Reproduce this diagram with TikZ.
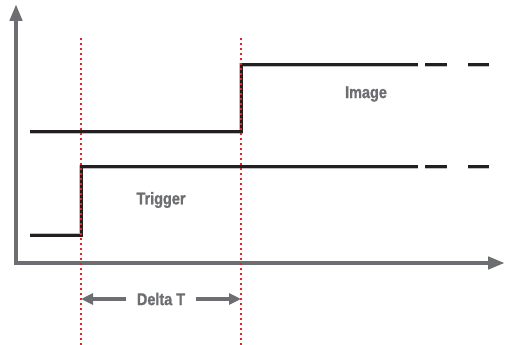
\documentclass[tikz,border=0pt]{standalone}
\usepackage{fontspec}
\newfontfamily\labelfont[FakeStretch=0.85, FakeBold=1.3]{Liberation Sans Bold}
\usetikzlibrary{arrows.meta}
\definecolor{axisgray}{HTML}{6D6E71}
\definecolor{sigblack}{HTML}{231F20}
\definecolor{markred}{HTML}{E0262B}
\tikzset{
  axis/.style={line width=4.5pt, axisgray, -{Triangle[width=12pt,length=17pt]}},
  signal/.style={line width=3pt, sigblack},
  shade/.style={line width=4.5pt, black!25},
  marker/.style={line width=1.6pt, markred, dash pattern=on 1.6pt off 3.4pt},
  span/.style={line width=4.5pt, axisgray, -{Triangle[width=11pt,length=12pt]}},
  lbl/.style={text=axisgray, font=\labelfont\fontsize{17}{17}\selectfont, inner sep=0pt}
}
\begin{document}
\begin{tikzpicture}[x=1pt,y=-1pt]
  \useasboundingbox (0,0) rectangle (515,345);
  %=========== axes ===========================
  \coordinate (o) at (16,263);
  \coordinate (ytop) at (16,4);
  \coordinate (xend) at (505,263);
  \draw[axis] (o) -- (ytop);
  \draw[axis] ([xshift=-2pt]o) -- (xend);
  %=========== markers ===========================
  \coordinate (m1top) at (81,38);
  \coordinate (m1bot) at (81,345);
  \coordinate (m2top) at (241,38);
  \coordinate (m2bot) at (241,345);
  %=========== image signal, from left to right ===========================
  \coordinate (img0) at (30,132);
  \coordinate (img1) at (241,132);
  \coordinate (img2) at (241,65);
  \coordinate (img3) at (418,65);
  %=========== trigger signal, from left to right ===========================
  \coordinate (trg0) at (30,235);
  \coordinate (trg1) at (81,235);
  \coordinate (trg2) at (81,167);
  \coordinate (trg3) at (418,167);
  \foreach \s/\d in {shade/1, signal/0} {
    \draw[\s, shift={(\d,\d)}] (img0) -- (img1) -- (img2) -- (img3);
    \draw[\s, shift={(\d,\d)}] (img3) ++(7,0) -- ++(22,0) ++(21,0) -- ++(21,0);
    \draw[\s, shift={(\d,\d)}] (trg0) -- (trg1) -- (trg2) -- (trg3);
    \draw[\s, shift={(\d,\d)}] (trg3) ++(7,0) -- ++(22,0) ++(21,0) -- ++(21,0);
  }
  \draw[marker] (m1top) -- (m1bot);
  \draw[marker] (m2top) -- (m2bot);
  %=========== labels ===========================
  \node[lbl] (image) at (366,94) {Image};
  \node[lbl] (trigger) at (161,200) {Trigger};
  \node[lbl] (delta) at (161,299) {Delta T};
  \draw[span] ([xshift=-11pt]delta.west) -- (m1top |- delta);
  \draw[span] ([xshift=11pt]delta.east) -- (m2top |- delta);
\end{tikzpicture}
\end{document}
